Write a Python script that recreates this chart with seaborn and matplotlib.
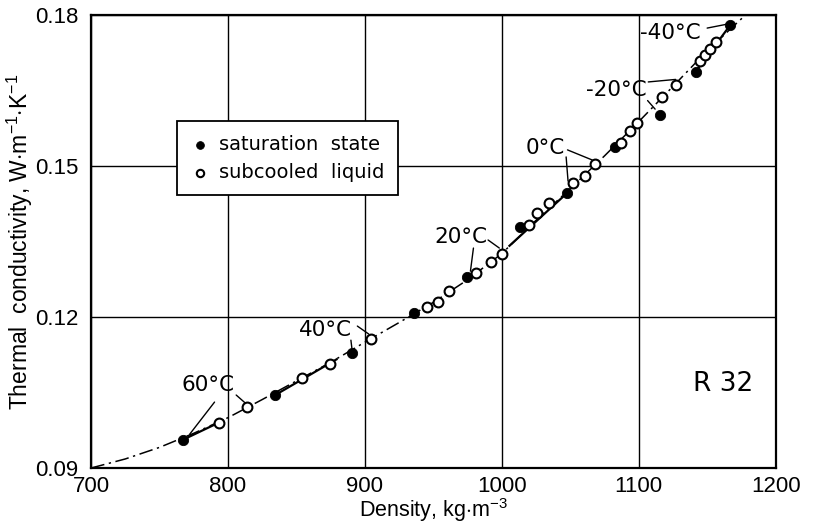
import matplotlib
matplotlib.use('Agg')
import matplotlib.pyplot as plt
import numpy as np
import pandas as pd
import seaborn as sns

# values
sat_density = [767, 834.5, 890.5, 935.6, 974.9, 1013.5, 1047.6, 1082.5, 1115.3, 1141.5, 1166.9]
sat_conductivity = [0.0956, 0.1045, 0.1128, 0.1208, 0.1279, 0.1379, 0.1446, 0.1538, 0.1601, 0.1687, 0.1780]

sub_density = [793.1, 814.2, 854.2, 874.5, 904.4, 945.1, 953.1, 961.1, 981.5, 992.4,
               1000.4, 1020.0, 1025.8, 1034.5, 1052.0, 1060.7, 1068.0, 1086.9, 1093.5,
               1098.5, 1116.7, 1126.9, 1145.1, 1148.7, 1152.4, 1156.7]
sub_conductivity = [0.0989, 0.1021, 0.1079, 0.1107, 0.1156, 0.1220, 0.1230, 0.1252, 0.1287, 0.1309,
                    0.1325, 0.1383, 0.1407, 0.1426, 0.1466, 0.1480, 0.1504, 0.1546, 0.1570,
                    0.1585, 0.1637, 0.1661, 0.1709, 0.1721, 0.1732, 0.1746]

# correlation curve (dash-dot), read at points along the line
curve_density = [700, 725, 750, 775, 800, 825, 850, 875, 900, 925, 950, 975,
                 1000, 1025, 1050, 1075, 1100, 1125, 1150, 1178]
curve_conductivity = [0.0900, 0.0918, 0.0941, 0.0969, 0.1000, 0.1036, 0.1073, 0.1110, 0.1150, 0.1189,
                      0.1229, 0.1274, 0.1326, 0.1392, 0.1455, 0.1520, 0.1588, 0.1658, 0.1729, 0.1800]

# short solid pieces drawn along the data
solid_pieces = [
    ([767, 797], [0.0956, 0.0995]),
    ([834.5, 880], [0.1045, 0.1117]),
    ([1005, 1050], [0.1340, 0.1452]),
    ([1141.5, 1166.9], [0.1687, 0.1780]),
]

temp_labels = ['-40°C', '-20°C', '0°C', '20°C', '40°C', '60°C']
label_pos = [(1123, 0.1764), (1084, 0.1651), (1031.6, 0.1536), (969.8, 0.1359), (870.9, 0.1174), (785.1, 0.1065)]
leaders = [
    [((1150, 0.1774), (1165, 0.1782))],
    [((1107, 0.1667), (1127, 0.1672)), ((1106.5, 0.1630), (1112, 0.1613))],
    [((1048, 0.1532), (1066, 0.1512)), ((1047, 0.1518), (1048.4, 0.1470))],
    [((990, 0.1353), (998.2, 0.1337)), ((979.3, 0.1337), (977.1, 0.1291))],
    [((894.5, 0.1182), (902.9, 0.1166)), ((889.8, 0.1154), (890.5, 0.1138))],
    [((806, 0.1045), (812.7, 0.1029)), ((790.2, 0.1031), (772, 0.0967))],
]

sns.set_style('white')
plt.rcParams['font.family'] = ['Liberation Sans', 'DejaVu Sans']
plt.rcParams['mathtext.fontset'] = 'custom'
plt.rcParams['mathtext.rm'] = 'Liberation Sans'
plt.rcParams['mathtext.it'] = 'Liberation Sans'
for key in ['text.color', 'axes.labelcolor', 'xtick.color', 'ytick.color']:
    plt.rcParams[key] = 'black'

fig = plt.figure(figsize=(8.13, 5.28), dpi=100)
ax = fig.add_axes([0.112, 0.1136, 0.842, 0.858])

curve = pd.DataFrame({'density': curve_density, 'k': curve_conductivity})
sns.lineplot(data=curve, x='density', y='k', ax=ax, color='black', lw=1.1,
             linestyle=(0, (9, 3, 1.5, 3)), sort=False)

for xs, ys in solid_pieces:
    ax.plot(xs, ys, color='black', lw=1.6, solid_capstyle='butt')

sat = pd.DataFrame({'density': sat_density, 'k': sat_conductivity})
sub = pd.DataFrame({'density': sub_density, 'k': sub_conductivity})
sns.scatterplot(data=sat, x='density', y='k', ax=ax, color='black', s=55,
                edgecolor='black', zorder=4, label='saturation  state')
sns.scatterplot(data=sub, x='density', y='k', ax=ax, facecolor='white', s=50,
                edgecolor='black', linewidth=1.5, zorder=4, label='subcooled  liquid')

for txt, (tx, ty), lines in zip(temp_labels, label_pos, leaders):
    ax.text(tx, ty, txt, fontsize=15.5, family='DejaVu Sans', ha='center', va='center')
    for (x0, y0), (x1, y1) in lines:
        ax.plot([x0, x1], [y0, y1], color='black', lw=1.0)

ax.text(1161.8, 0.1067, 'R 32', fontsize=19, family='DejaVu Sans', ha='center', va='center')

ax.set_xlim(700, 1200)
ax.set_ylim(0.09, 0.18)
ax.set_xticks([700, 800, 900, 1000, 1100, 1200])
ax.set_yticks([0.09, 0.12, 0.15, 0.18])
ax.set_yticklabels(['0.09', '0.12', '0.15', '0.18'])
ax.grid(True, color='black', lw=1.0)
ax.set_axisbelow(True)
ax.tick_params(length=0, labelsize=16)
ax.tick_params(axis='x', pad=6)
ax.tick_params(axis='y', pad=9)
for s in ax.spines.values():
    s.set_color('black')
    s.set_linewidth(1.6)

ax.set_xlabel('Density, kg$\\cdot$m$^{-3}$', fontsize=15.5, labelpad=-1)
ax.set_ylabel('Thermal  conductivity, W$\\cdot$m$^{-1}$$\\cdot$K$^{-1}$', fontsize=16.5, labelpad=0)

leg = ax.legend(loc='upper left', bbox_to_anchor=(0.125, 0.765), borderaxespad=0,
                fancybox=False, edgecolor='black', framealpha=1,
                handlelength=1.0, handletextpad=0.5, borderpad=0.7, labelspacing=0.45,
                markerscale=0.75, prop={'family': 'DejaVu Sans', 'size': 14})
leg.get_frame().set_linewidth(1.3)

fig.savefig('out.png', dpi=100)
